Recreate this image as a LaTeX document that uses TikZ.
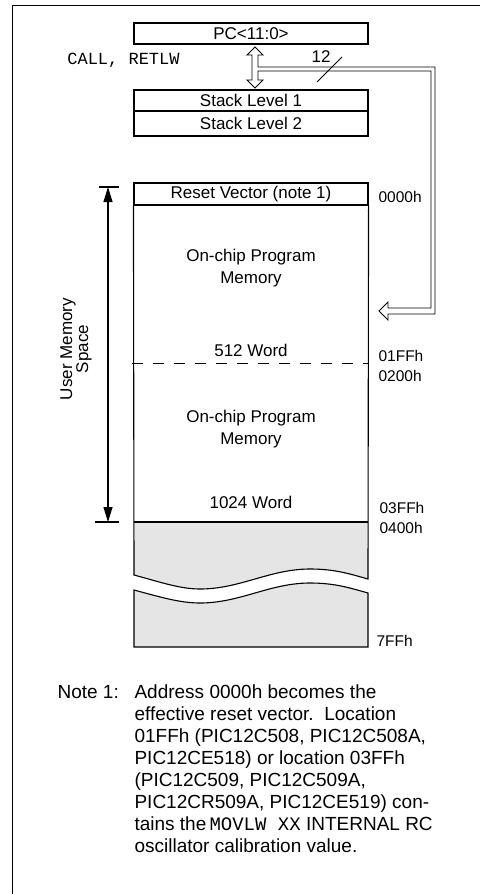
\documentclass[tikz,border=0pt]{standalone}
\usepackage{fontspec}
\setmainfont{Liberation Sans}
\setmonofont{Liberation Mono}
\usetikzlibrary{arrows.meta}
\begin{document}
\begin{tikzpicture}[x=1pt,y=-1pt,line width=1.1pt,
  lbl/.style={inner sep=0pt,font=\fontsize{17}{20}\selectfont},
  addr/.style={inner sep=0pt,anchor=west,font=\fontsize{15.5}{18}\selectfont},
  regbox/.style={draw,minimum width=234pt,inner sep=0pt,font=\fontsize{17}{20}\selectfont},
  notetxt/.style={inner sep=0pt,anchor=base west,font=\fontsize{19}{22}\selectfont},
  monotxt/.style={inner sep=0pt,font=\fontsize{17}{20}\ttfamily},
  memgray/.style={fill=black!10,draw=none},
  bus/.style={draw,fill=white,line width=0.9pt}]
\useasboundingbox (0,0) rectangle (480,894);
% frame
\draw (12.5,894) -- (12.5,5.3) -- (480,5.3);
% registers
\node[regbox,minimum height=21pt] (pc) at (251,33.5) {PC<11:0>};
\node[regbox,minimum height=21pt] (st1) at (251,100.5) {Stack Level 1};
\node[regbox,minimum height=25pt] (st2) at (251,123.5) {Stack Level 2};
\node[monotxt] (call) at (123.5,60.5) {CALL, RETLW};
% hollow bus
\coordinate (uptip) at (255,47);
\coordinate (dntip) at (255,88);
\coordinate (bustip) at (379,311);
\draw[bus] (uptip) -- (263,55) -- (258,55) -- (258,67) -- (435,67) -- (435,314)
  -- (388,314) -- (388,320) -- (bustip) -- (388,302) -- (388,308) -- (431,308)
  -- (431,71) -- (258,71) -- (258,80) -- (263,80) -- (dntip) -- (247,80)
  -- (252,80) -- (252,55) -- (247,55) -- cycle;
\coordinate (slA) at (317,82);
\coordinate (slB) at (342,57);
\draw[line width=0.8pt] (slA) -- (slB);
\node[lbl] (twelve) at (321,57) {12};
% memory map
\node[regbox,minimum height=22pt] (reset) at (251,194) {Reset Vector (note 1)};
\fill[memgray] (134,522) -- (368,522) -- (368,579)
  .. controls (350,574) and (335,569) .. (310,569)
  .. controls (270,569) and (240,589) .. (200,589)
  .. controls (180,589) and (160,582) .. (134,575) -- cycle;
\fill[memgray] (134,590)
  .. controls (160,597) and (180,603) .. (200,603)
  .. controls (240,603) and (270,583) .. (310,583)
  .. controls (335,583) and (350,588) .. (368,593) -- (368,647) -- (134,647) -- cycle;
\draw (reset.south west) -- (134,575)
  .. controls (160,582) and (180,589) .. (200,589)
  .. controls (240,589) and (270,569) .. (310,569)
  .. controls (335,569) and (350,574) .. (368,579) -- (reset.south east);
\draw (134,590)
  .. controls (160,597) and (180,603) .. (200,603)
  .. controls (240,603) and (270,583) .. (310,583)
  .. controls (335,583) and (350,588) .. (368,593) -- (368,647) -- (134,647) -- cycle;
\draw (134,522) -- (368,522);
\draw[line width=1pt,dash pattern=on 11pt off 10pt] (132,363) -- (368,363);
\node[lbl] (ocp1) at (251,257) {On-chip Program};
\node[lbl] (mem1) at (251,279) {Memory};
\node[lbl] (w512) at (251,350) {512 Word};
\node[lbl] (ocp2) at (251,418) {On-chip Program};
\node[lbl] (mem2) at (251,440) {Memory};
\node[lbl] (w1024) at (251,502) {1024 Word};
% addresses
\node[addr] (a0000) at (378,197) {0000h};
\node[addr] (a01ff) at (378,356) {01FFh};
\node[addr] (a0200) at (378,376) {0200h};
\node[addr] (a03ff) at (379,508) {03FFh};
\node[addr] (a0400) at (379,528) {0400h};
\node[addr] (a7ff) at (376,641) {7FFh};
% user memory space dimension
\coordinate (dtop) at (108,187);
\coordinate (dbot) at (108,522);
\draw (99,187) -- (119,187);
\draw (95,522) -- (119,522);
\draw[{Triangle[length=15pt,width=9pt]}-{Triangle[length=15pt,width=9pt]}] (dtop) -- (dbot);
\node[inner sep=0pt,rotate=90,align=center,font=\fontsize{17}{16}\selectfont] (ums) at (76,349) {User Memory\\Space};
% note
\node[notetxt] (nlab) at (57,698) {Note 1:};
\node[notetxt] (n1) at (134,698) {Address 0000h becomes the};
\node[notetxt] (n2) at (134,720) {effective reset vector.\ \ Location};
\node[notetxt] (n3) at (134,742) {01FFh (PIC12C508, PIC12C508A,};
\node[notetxt] (n4) at (134,764) {PIC12CE518) or location 03FFh};
\node[notetxt] (n5) at (134,786) {(PIC12C509, PIC12C509A,};
\node[notetxt] (n6) at (134,808) {PIC12CR509A, PIC12CE519) con-};
\node[notetxt] (n7) at (134,830) {tains the{\ttfamily\,MOVLW XX} INTERNAL RC};
\node[notetxt] (n8) at (134,852) {oscillator calibration value.};
\end{tikzpicture}
\end{document}
